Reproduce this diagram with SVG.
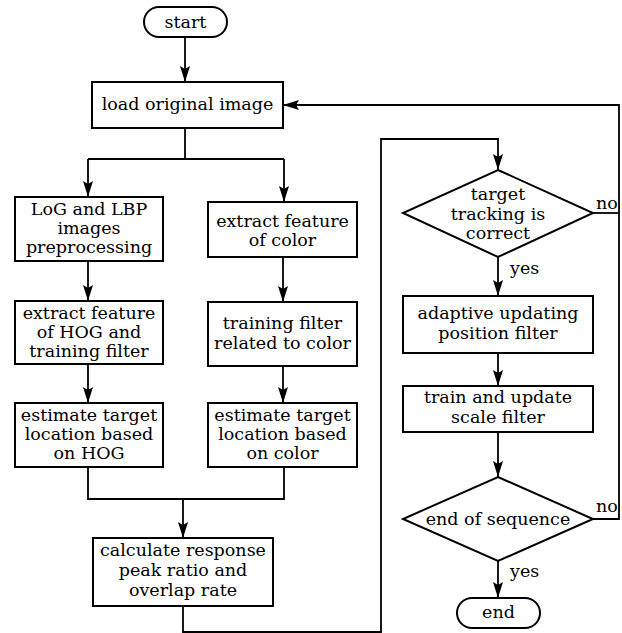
<svg xmlns="http://www.w3.org/2000/svg" width="622" height="633" viewBox="0 0 622 633">
<style>
  .box { fill: #fff; stroke: #000; stroke-width: 2; }
  .t { font-family: "DejaVu Serif", "Liberation Serif", serif; font-size: 17.5px; fill: #000; text-anchor: middle; }
  .lbl { font-family: "DejaVu Serif", "Liberation Serif", serif; font-size: 17.5px; fill: #000; }
  .c { fill: none; stroke: #000; stroke-width: 1.8; }
</style>
<defs>
  <marker id="arr" markerUnits="userSpaceOnUse" markerWidth="16" markerHeight="10" viewBox="0 0 16 10" refX="16" refY="5" orient="auto">
    <path d="M0,0 L16,5 L0,10 L3,5 z" fill="#000"/>
  </marker>
</defs>
<rect width="622" height="633" fill="#fff"/>
<g id="connectors">
  <path class="c" d="M185,37 V82" marker-end="url(#arr)"/>
  <path class="c" d="M185,128 V159 M88,159 H284"/>
  <path class="c" d="M88,159 V197" marker-end="url(#arr)"/>
  <path class="c" d="M284,159 V202" marker-end="url(#arr)"/>
  <path class="c" d="M88,261 V301" marker-end="url(#arr)"/>
  <path class="c" d="M88,364 V403" marker-end="url(#arr)"/>
  <path class="c" d="M283,257 V302" marker-end="url(#arr)"/>
  <path class="c" d="M283,366 V403" marker-end="url(#arr)"/>
  <path class="c" d="M88,467 V499 H284 V467"/>
  <path class="c" d="M183,499 V538" marker-end="url(#arr)"/>
  <path class="c" d="M183,606 V632 H381 V139 H498 V170" marker-end="url(#arr)"/>
  <path class="c" d="M498,257 V296" marker-end="url(#arr)"/>
  <path class="c" d="M498,353 V386" marker-end="url(#arr)"/>
  <path class="c" d="M498,432 V477" marker-end="url(#arr)"/>
  <path class="c" d="M498,561 V598" marker-end="url(#arr)"/>
  <path class="c" d="M593,213 H619"/>
  <path class="c" d="M593,519 H619 V105 H283" marker-end="url(#arr)"/>
  <text class="lbl" x="510" y="274">yes</text>
  <text class="lbl" x="510" y="577">yes</text>
  <text class="lbl" x="596" y="209">no</text>
  <text class="lbl" x="596" y="512">no</text>
</g>
<g id="start">
  <rect class="box" x="144" y="7" width="83" height="30" rx="15"/>
  <text class="t" x="185.5" y="28">start</text>
</g>
<g id="load">
  <rect class="box" x="92" y="82" width="191" height="46"/>
  <text class="t" x="187.5" y="110">load original image</text>
</g>
<g id="preprocess">
  <rect class="box" x="15" y="197" width="148" height="64"/>
  <text class="t" x="89" y="215">LoG and LBP</text>
  <text class="t" x="89" y="234">images</text>
  <text class="t" x="89" y="253">preprocessing</text>
</g>
<g id="hog">
  <rect class="box" x="15" y="301" width="148" height="63"/>
  <text class="t" x="89" y="319">extract feature</text>
  <text class="t" x="89" y="338">of HOG and</text>
  <text class="t" x="89" y="357">training filter</text>
</g>
<g id="estHog">
  <rect class="box" x="15" y="403" width="148" height="64"/>
  <text class="t" x="89" y="421">estimate target</text>
  <text class="t" x="89" y="440">location based</text>
  <text class="t" x="89" y="459">on HOG</text>
</g>
<g id="color">
  <rect class="box" x="208" y="202" width="149" height="55"/>
  <text class="t" x="282.5" y="227">extract feature</text>
  <text class="t" x="282.5" y="246">of color</text>
</g>
<g id="trainColor">
  <rect class="box" x="208" y="302" width="149" height="64"/>
  <text class="t" x="282.5" y="329">training filter</text>
  <text class="t" x="282.5" y="349">related to color</text>
</g>
<g id="estColor">
  <rect class="box" x="208" y="403" width="149" height="64"/>
  <text class="t" x="282.5" y="421">estimate target</text>
  <text class="t" x="282.5" y="440">location based</text>
  <text class="t" x="282.5" y="459">on color</text>
</g>
<g id="calc">
  <rect class="box" x="93" y="538" width="180" height="68"/>
  <text class="t" x="183" y="556">calculate response</text>
  <text class="t" x="183" y="576">peak ratio and</text>
  <text class="t" x="183" y="596">overlap rate</text>
</g>
<g id="check">
  <polygon class="box" points="498,170 593,213 498,257 403,213"/>
  <text class="t" x="498" y="200">target</text>
  <text class="t" x="498" y="220">tracking is</text>
  <text class="t" x="498" y="239">correct</text>
</g>
<g id="adaptive">
  <rect class="box" x="403" y="296" width="190" height="57"/>
  <text class="t" x="498" y="319">adaptive updating</text>
  <text class="t" x="498" y="339">position filter</text>
</g>
<g id="scale">
  <rect class="box" x="403" y="386" width="190" height="46"/>
  <text class="t" x="498" y="403">train and update</text>
  <text class="t" x="498" y="423">scale filter</text>
</g>
<g id="endSeq">
  <polygon class="box" points="498,477 593,519 498,561 403,519"/>
  <text class="t" x="498" y="525">end of sequence</text>
</g>
<g id="end">
  <rect class="box" x="457" y="598" width="83" height="30" rx="15"/>
  <text class="t" x="498.5" y="618">end</text>
</g>
</svg>
